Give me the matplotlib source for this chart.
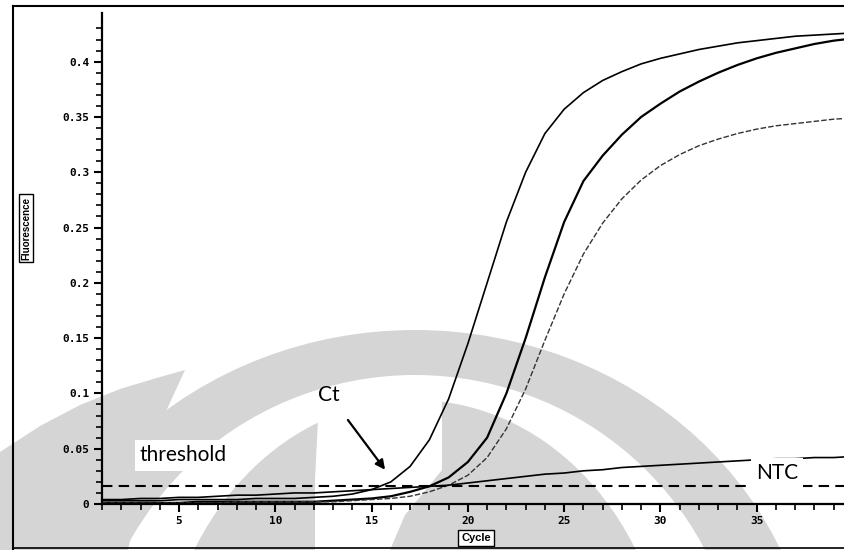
import numpy as np
import matplotlib.pyplot as plt
from matplotlib.lines import Line2D
from matplotlib.patches import Ellipse, Polygon

# cycles and fluorescence readings
cycles = np.arange(1, 41)

curve_a = [0.003, 0.003, 0.003, 0.003, 0.004, 0.004, 0.004, 0.004, 0.005, 0.005,
           0.005, 0.006, 0.007, 0.009, 0.013, 0.020, 0.034, 0.058, 0.095, 0.145,
           0.200, 0.255, 0.300, 0.335, 0.357, 0.372, 0.383, 0.391, 0.398, 0.403,
           0.407, 0.411, 0.414, 0.417, 0.419, 0.421, 0.423, 0.424, 0.425, 0.426]

curve_b = [0.001, 0.001, 0.001, 0.001, 0.001, 0.002, 0.002, 0.002, 0.002, 0.002,
           0.002, 0.002, 0.003, 0.004, 0.005, 0.007, 0.011, 0.016, 0.024, 0.038,
           0.060, 0.100, 0.150, 0.205, 0.255, 0.292, 0.315, 0.334, 0.350, 0.362,
           0.373, 0.382, 0.390, 0.397, 0.403, 0.408, 0.412, 0.416, 0.419, 0.421]

curve_c = [0.001, 0.001, 0.001, 0.001, 0.001, 0.001, 0.001, 0.002, 0.002, 0.002,
           0.002, 0.002, 0.002, 0.003, 0.004, 0.005, 0.007, 0.011, 0.017, 0.026,
           0.042, 0.068, 0.104, 0.148, 0.190, 0.226, 0.254, 0.276, 0.293, 0.306,
           0.316, 0.324, 0.330, 0.335, 0.339, 0.342, 0.344, 0.346, 0.348, 0.349]

ntc = [0.004, 0.004, 0.005, 0.005, 0.006, 0.006, 0.007, 0.008, 0.008, 0.009,
       0.010, 0.010, 0.011, 0.012, 0.013, 0.014, 0.015, 0.016, 0.017, 0.019,
       0.021, 0.023, 0.025, 0.027, 0.028, 0.030, 0.031, 0.033, 0.034, 0.035,
       0.036, 0.037, 0.038, 0.039, 0.040, 0.041, 0.041, 0.042, 0.042, 0.043]

threshold = 0.0164

y_ticks = [0, 0.05, 0.1, 0.15, 0.2, 0.25, 0.3, 0.35, 0.4]
y_ticklabels = ["0", "0.05", "0.1", "0.15", "0.2", "0.25", "0.3", "0.35", "0.4"]
x_ticks = [5, 10, 15, 20, 25, 30, 35, 40]

fig = plt.figure(figsize=(8.45, 5.5), dpi=100)

# faint watermark behind the scan (pixel coords)
wm = "#d5d5d5"
bg = fig.add_axes([0, 0, 1, 1], zorder=0)
bg.set_xlim(0, 845)
bg.set_ylim(550, 0)
bg.axis("off")
bg.add_patch(Ellipse((415, 700), 800, 740, fc=wm, ec="none"))
bg.add_patch(Ellipse((415, 700), 654, 650, fc="white", ec="none"))
bg.add_patch(Polygon([(0, 452), (40, 426), (80, 405), (120, 389), (160, 377),
                      (185, 370), (162, 420), (146, 470), (128, 550), (0, 550)],
                     closed=True, fc=wm, ec="none"))
bg.add_patch(Ellipse((415, 700), 510, 600, fc=wm, ec="none"))
bg.add_patch(Polygon([(315, 480), (318, 420), (340, 386), (380, 378), (425, 385),
                      (442, 402), (442, 470), (405, 515), (390, 550), (315, 550)],
                     closed=True, fc="white", ec="none"))

ax = fig.add_axes([102 / 845, 46 / 550, 751 / 845, 491 / 550], zorder=1)
ax.patch.set_visible(False)

ax.plot(cycles, curve_a, color="black", lw=1.2)
ax.plot(cycles, curve_b, color="black", lw=1.6)
ax.plot(cycles, curve_c, color="#333333", lw=1.0, dashes=(4, 1.5))
ax.plot(cycles, ntc, color="black", lw=1.2)
ax.axhline(threshold, color="black", lw=1.5, dashes=(5, 3))

ax.set_xlim(1, 40)
ax.set_ylim(0, 0.444)
ax.set_xticks(x_ticks)
ax.set_xticks(np.arange(1, 41), minor=True)
ax.set_yticks(y_ticks)
ax.set_yticklabels(y_ticklabels)
ax.set_yticks(np.arange(0, 0.44, 0.01), minor=True)

for s in ["top", "right"]:
    ax.spines[s].set_visible(False)
for s in ["left", "bottom"]:
    ax.spines[s].set_linewidth(1.6)

ax.tick_params(which="major", length=6, width=1.5, labelsize=8, pad=3)
ax.tick_params(which="minor", length=4, width=1.2)
for lab in ax.get_xticklabels() + ax.get_yticklabels():
    lab.set_family("DejaVu Sans Mono")
    lab.set_fontweight("bold")

# text labels (white boxes hide the watermark, as in the scan)
txt = dict(family=["Lato", "DejaVu Sans"], fontsize=15, color="black")
wbox = dict(boxstyle="square,pad=0.25", fc="white", ec="none")
ax.text(2.97, 0.044, "threshold", ha="left", va="center", bbox=wbox, **txt)
ax.text(36.06, 0.028, "NTC", ha="center", va="center", bbox=wbox, **txt)
ax.annotate("Ct", xy=(15.7, 0.031), xytext=(12.8, 0.0986), ha="center", va="center",
            arrowprops=dict(arrowstyle="-|>", color="black", lw=1.6, shrinkA=11, shrinkB=0,
                            mutation_scale=14), **txt)

box = dict(boxstyle="square,pad=0.25", fc="white", ec="black", lw=1.0)
fig.text(26 / 845, 1 - 228 / 550, "Fluorescence", rotation=90, ha="center", va="center",
         family="Liberation Sans", fontsize=7, fontweight="bold", bbox=box)
fig.text(476 / 845, 1 - 538 / 550, "Cycle", ha="center", va="center",
         family="Liberation Sans", fontsize=8, fontweight="bold", bbox=box, zorder=5)

# outer frame of the scanned figure
fig.add_artist(Line2D([13 / 845, 13 / 845], [0, 1 - 6 / 550], color="black", lw=1.5, zorder=5))
fig.add_artist(Line2D([13 / 845, 1], [1 - 6 / 550, 1 - 6 / 550], color="black", lw=1.5, zorder=5))
fig.add_artist(Line2D([13 / 845, 1], [2 / 550, 2 / 550], color="black", lw=1.2, zorder=5))

fig.savefig("out.png", dpi=100)
